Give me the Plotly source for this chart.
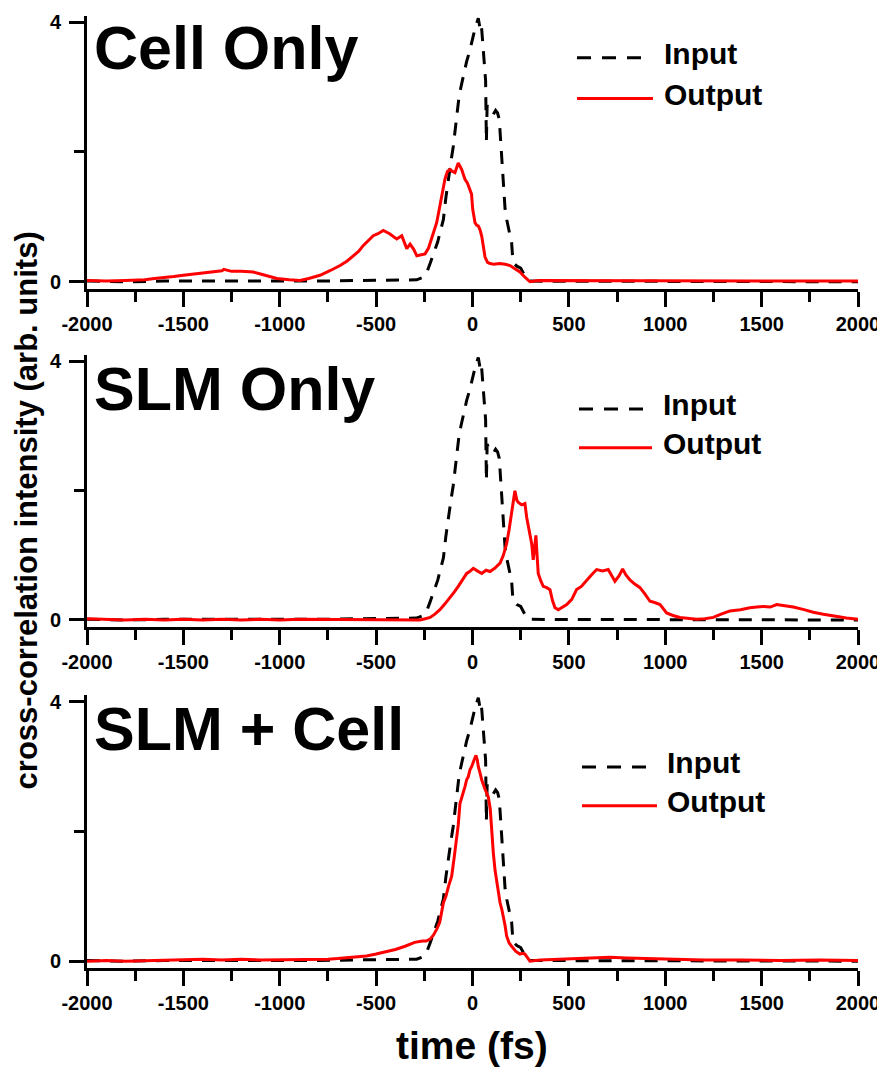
import plotly.graph_objects as go

# ---------------- data ----------------
# shared input pulse (black dashed), time in fs
t_in = [-2000, -1800, -1600, -1400, -1200, -1000, -800, -600, -450, -350, -290, -263, -240,
        -220, -200, -180, -165, -151, -138, -125, -112, -100, -90, -80, -70, -60, -48, -38,
        -30, -15, -4, 5, 13, 22, 30, 38, 44, 48, 56, 63, 68, 72, 76, 82, 95, 108, 120, 130,
        139, 146, 151, 160, 169, 178, 186, 195, 203, 210, 230, 250, 264, 280, 298, 350, 500,
        700, 900, 1100, 1300, 1500, 1700, 1900, 2000]
v_in = [0.01, 0.0, 0.01, 0.01, 0.0, 0.01, 0.01, 0.02, 0.02, 0.02, 0.03, 0.06, 0.12,
        0.28, 0.45, 0.62, 0.80, 0.96, 1.30, 1.60, 1.85, 2.08, 2.35, 2.60, 2.85, 3.00, 3.17, 3.30,
        3.40, 3.55, 3.67, 3.80, 3.90, 3.97, 4.06, 3.92, 3.98, 3.88, 3.50, 3.25, 3.10, 2.16, 2.72,
        2.67, 2.62, 2.58, 2.64, 2.60, 2.50, 2.20, 1.90, 1.45, 1.12, 0.95, 0.83, 0.70, 0.60, 0.30,
        0.24, 0.21, 0.12, 0.04, 0.01, 0.01, 0.0, 0.01, 0.01, 0.0, 0.01, 0.0, 0.01, 0.0, 0.0]

# panel 1: Cell Only output
t_cell = [-2000, -1900, -1800, -1700, -1650, -1600, -1550, -1500, -1450, -1400, -1350, -1300,
          -1290, -1250, -1200, -1137, -1100, -1050, -1015, -950, -895, -850, -791, -740, -687,
          -650, -618, -590, -566, -540, -515, -490, -463, -430, -393, -367, -341, -324, -305,
          -289, -265, -246, -228, -212, -198, -186, -169, -155, -143, -130, -117, -104, -91,
          -82, -74, -65, -56, -47, -39, -26, -13, -5, 1, 8, 13, 22, 30, 39, 48, 56, 65, 78, 91,
          110, 140, 170, 195, 220, 246, 272, 298, 340, 385, 450, 550, 700, 850, 1000, 1200,
          1400, 1600, 1800, 2000]
v_cell = [0.02, 0.01, 0.02, 0.03, 0.05, 0.06, 0.08, 0.10, 0.12, 0.14, 0.15, 0.17,
          0.19, 0.16, 0.16, 0.15, 0.12, 0.08, 0.05, 0.03, 0.02, 0.05, 0.10, 0.17, 0.25,
          0.32, 0.40, 0.47, 0.56, 0.63, 0.71, 0.74, 0.79, 0.74, 0.66, 0.71, 0.51, 0.58, 0.50,
          0.40, 0.42, 0.43, 0.52, 0.66, 0.78, 0.91, 1.17, 1.40, 1.58, 1.70, 1.73, 1.70, 1.68,
          1.76, 1.83, 1.78, 1.73, 1.65, 1.58, 1.52, 1.43, 1.35, 1.12, 1.00, 0.91, 0.87, 0.86, 0.80,
          0.70, 0.55, 0.38, 0.30, 0.28, 0.27, 0.28, 0.27, 0.25, 0.20, 0.15, 0.07, 0.0, 0.02, 0.02,
          0.01, 0.02, 0.01, 0.02, 0.01, 0.01, 0.02, 0.01, 0.02, 0.01]

# panel 2: SLM Only output
t_slm = [-2000, -1900, -1800, -1700, -1600, -1500, -1400, -1300, -1200, -1100, -1000, -900,
         -800, -700, -600, -500, -400, -320, -272, -245, -220, -195, -169, -143, -117, -95,
         -74, -50, -30, -15, 4, 25, 48, 70, 91, 115, 143, 160, 177, 190, 203, 212, 220, 230,
         238, 255, 272, 281, 295, 307, 315, 322, 329, 335, 341, 355, 367, 385, 402, 415, 428,
         445, 465, 489, 515, 540, 565, 592, 618, 644, 675, 704, 720, 739, 760, 779, 795, 817,
         840, 869, 895, 921, 945, 973, 1007, 1040, 1076, 1120, 1163, 1205, 1249, 1290, 1336,
         1390, 1439, 1475, 1508, 1545, 1578, 1620, 1664, 1720, 1768, 1820, 1871, 1940, 2000]
v_slm = [0.02, 0.01, 0.0, 0.01, 0.0, 0.01, 0.0, 0.01, 0.0, 0.01, 0.0, 0.01,
         0.01, 0.0, 0.01, 0.0, 0.01, 0.0, 0.0, 0.02, 0.04, 0.09, 0.16, 0.25, 0.34, 0.43,
         0.52, 0.62, 0.72, 0.75, 0.80, 0.76, 0.72, 0.77, 0.75, 0.80, 0.88, 1.00, 1.18, 1.40,
         1.64, 1.85, 2.00, 1.85, 1.82, 1.78, 1.80, 1.59, 1.38, 1.18, 0.93, 1.10, 1.31, 1.00,
         0.72, 0.60, 0.52, 0.50, 0.47, 0.30, 0.19, 0.16, 0.20, 0.24, 0.32, 0.47, 0.52, 0.62,
         0.70, 0.78, 0.76, 0.78, 0.70, 0.60, 0.68, 0.79, 0.70, 0.62, 0.56, 0.50, 0.40, 0.29,
         0.27, 0.24, 0.11, 0.07, 0.04, 0.02, 0.01, 0.02, 0.04, 0.09, 0.14, 0.16, 0.19, 0.20,
         0.21, 0.20, 0.24, 0.22, 0.20, 0.16, 0.12, 0.09, 0.06, 0.03, 0.01]

# panel 3: SLM + Cell output
t_both = [-2000, -1900, -1800, -1700, -1600, -1500, -1400, -1300, -1200, -1100, -1000, -900,
          -800, -750, -700, -650, -600, -550, -500, -450, -400, -350, -300, -260, -240, -220,
          -203, -186, -170, -151, -138, -125, -108, -95, -82, -74, -65, -52, -39, -30, -22,
          -13, -4, 8, 18, 25, 30, 39, 48, 65, 82, 92, 100, 108, 117, 126, 135, 143, 152, 160,
          169, 177, 190, 203, 225, 246, 260, 272, 285, 298, 350, 450, 550, 650, 713, 800, 900,
          1000, 1200, 1400, 1600, 1800, 2000]
v_both = [0.0, 0.01, 0.0, 0.01, 0.02, 0.02, 0.03, 0.02, 0.03, 0.02, 0.02, 0.03,
          0.03, 0.03, 0.04, 0.05, 0.06, 0.08, 0.11, 0.14, 0.18, 0.23, 0.29, 0.31, 0.31, 0.34,
          0.40, 0.49, 0.60, 0.90, 1.00, 1.15, 1.31, 1.60, 1.87, 2.10, 2.43, 2.55, 2.69, 2.80, 2.84,
          2.95, 3.00, 3.10, 3.17, 3.10, 3.00, 2.90, 2.79, 2.65, 2.53, 2.35, 1.97, 1.67, 1.40, 1.21,
          1.05, 0.90, 0.80, 0.69, 0.55, 0.39, 0.28, 0.23, 0.15, 0.11, 0.12, 0.11, 0.06, 0.0, 0.02,
          0.03, 0.04, 0.05, 0.06, 0.05, 0.04, 0.03, 0.02, 0.02, 0.01, 0.02, 0.01]

panel_titles = ["Cell Only", "SLM Only", "SLM + Cell"]
legend_labels = ["Input", "Output"]
x_tick_vals = [-2000, -1500, -1000, -500, 0, 500, 1000, 1500, 2000]
x_tick_text = ["-2000", "-1500", "-1000", "-500", "0", "500", "1000", "1500", "2000"]
x_minor_vals = [-1750, -1250, -750, -250, 250, 750, 1250, 1750]
y_tick_vals = [0, 4]
y_tick_text = ["0", "4"]
y_minor_vals = [2]
x_title = "time (fs)"
y_title = "cross-correlation intensity (arb. units)"

assert len(t_in) == len(v_in)
assert len(t_cell) == len(v_cell)
assert len(t_slm) == len(v_slm)
assert len(t_both) == len(v_both)

# ---------------- layout geometry (pixels) ----------------
# the page body has an 8px margin, so the figure is drawn 8px in from the window corner
OFF = 8
W, H = 885 - OFF, 1074 - OFF
ML, MR, MT, MB = 87 - OFF, 27, 11 - OFF, 106
PW, PH = W - ML - MR, H - MT - MB
FONT = "Liberation Sans, Arial, Helvetica, sans-serif"
DASH = "13px,10px"


def px_x(px):
    """window pixel x -> paper fraction"""
    return (px - OFF - ML) / PW


def px_y(py):
    """window pixel y -> paper fraction"""
    return 1 - (py - OFF - MT) / PH


panels = [  # (top px, bottom px) in window pixels
    (11, 285),
    (352, 625),
    (694, 968),
]
outputs = [(t_cell, v_cell), (t_slm, v_slm), (t_both, v_both)]
title_pos = [(92, 43.5), (92, 386), (92, 727.5)]          # left x, middle y
legend_pos = [  # line x0, line x1 (input), line x1 (output), text x, y input line, y output line
    (577, 645, 653, 662, 53, 94),
    (579, 644, 652, 661, 406, 445),
    (582, 648, 657, 665, 766, 805),
]
legend_text_dy = -4.5

fig = go.Figure()
layout = dict(
    width=W, height=H,
    margin=dict(l=ML, r=MR, t=MT, b=MB, pad=0),
    plot_bgcolor="white", paper_bgcolor="white",
    showlegend=False,
    font=dict(family=FONT, color="black"),
)

annotations = []
shapes = []
for i, (top, bot) in enumerate(panels):
    sfx = "" if i == 0 else str(i + 1)
    t_out, v_out = outputs[i]
    fig.add_trace(go.Scatter(x=t_in, y=v_in, mode="lines", name=legend_labels[0],
                             line=dict(color="black", width=3, dash=DASH),
                             xaxis="x" + sfx, yaxis="y" + sfx))
    fig.add_trace(go.Scatter(x=t_out, y=v_out, mode="lines", name=legend_labels[1],
                             line=dict(color="#ff0000", width=3),
                             xaxis="x" + sfx, yaxis="y" + sfx))
    layout["xaxis" + sfx] = dict(
        domain=[0, 1], anchor="y" + sfx, range=[-2000, 2000],
        tickmode="array", tickvals=x_tick_vals, ticktext=x_tick_text,
        ticks="outside", ticklen=15, tickwidth=3, tickcolor="black",
        showline=True, linewidth=3, linecolor="black",
        showgrid=False, zeroline=False,
        tickfont=dict(family=FONT, size=20, color="black", weight="bold"),
        minor=dict(tickmode="array", tickvals=x_minor_vals, ticks="outside",
                   ticklen=10, tickwidth=3, tickcolor="black", showgrid=False),
    )
    layout["yaxis" + sfx] = dict(
        domain=[px_y(bot), px_y(top)], anchor="x" + sfx, range=[-0.105, 4.095],
        tickmode="array", tickvals=y_tick_vals, ticktext=y_tick_text,
        ticks="outside", ticklen=15, tickwidth=3, tickcolor="black",
        showline=True, linewidth=3, linecolor="black",
        showgrid=False, zeroline=False, ticklabelstandoff=4,
        tickfont=dict(family=FONT, size=20, color="black", weight="bold"),
        minor=dict(tickmode="array", tickvals=y_minor_vals, ticks="outside",
                   ticklen=10, tickwidth=3, tickcolor="black", showgrid=False),
    )
    # panel title
    tx, ty = title_pos[i]
    annotations.append(dict(text=panel_titles[i], xref="paper", yref="paper",
                            x=px_x(tx), y=px_y(ty), xanchor="left", yanchor="middle",
                            showarrow=False,
                            font=dict(family=FONT, size=61, color="black", weight="bold")))
    # legend
    lx0, lx1_in, lx1_out, ltx, ly_in, ly_out = legend_pos[i]
    shapes.append(dict(type="line", xref="paper", yref="paper",
                       x0=px_x(lx0), x1=px_x(lx1_in), y0=px_y(ly_in), y1=px_y(ly_in),
                       line=dict(color="black", width=3, dash="14px,11px")))
    shapes.append(dict(type="line", xref="paper", yref="paper",
                       x0=px_x(lx0), x1=px_x(lx1_out), y0=px_y(ly_out), y1=px_y(ly_out),
                       line=dict(color="#ff0000", width=3)))
    for lab, ly in zip(legend_labels, (ly_in, ly_out)):
        annotations.append(dict(text=lab, xref="paper", yref="paper",
                                x=px_x(ltx), y=px_y(ly + legend_text_dy),
                                xanchor="left", yanchor="middle", showarrow=False,
                                font=dict(family=FONT, size=30, color="black", weight="bold")))

annotations.append(dict(text=x_title, xref="paper", yref="paper",
                        x=px_x(472), y=px_y(1046), xanchor="center", yanchor="middle",
                        showarrow=False,
                        font=dict(family=FONT, size=39, color="black", weight="bold")))
annotations.append(dict(text=y_title, xref="paper", yref="paper",
                        x=px_x(26), y=px_y(508), xanchor="center", yanchor="middle",
                        textangle=-90, showarrow=False,
                        font=dict(family=FONT, size=31, color="black", weight="bold")))

layout["annotations"] = annotations
layout["shapes"] = shapes
fig.update_layout(**layout)
fig.write_html("out.html")
